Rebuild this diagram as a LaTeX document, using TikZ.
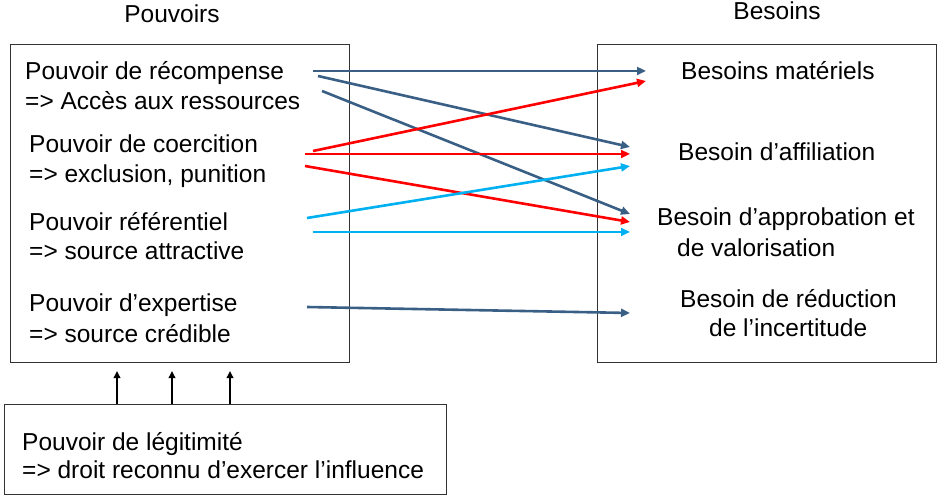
\documentclass[tikz,border=0pt]{standalone}
\usepackage{fontspec}
\setmainfont{Liberation Sans}
\usetikzlibrary{arrows.meta}
\definecolor{dblue}{HTML}{3A5F85}
\definecolor{cred}{HTML}{FF0000}
\definecolor{ccyan}{HTML}{00B0F0}
\tikzset{
  boxframe/.style={draw=black!80, line width=1pt},
  lbl/.style={anchor=base west, inner sep=0pt, font=\fontsize{24.5}{29}\selectfont},
  lblc/.style={anchor=base, inner sep=0pt, font=\fontsize{24.5}{29}\selectfont},
  conn/.style={line width=2.6pt, -{Triangle[length=9pt,width=8pt]}},
  vconn/.style={line width=2.4pt, black, -{Triangle[length=7pt,width=6.5pt]}}
}
\begin{document}
\begin{tikzpicture}[x=1pt,y=-1pt]
\useasboundingbox (0,0) rectangle (938,497);
% boxes
\node[boxframe, minimum width=339pt, minimum height=318pt, anchor=north west, inner sep=0pt] (pbox) at (10,44) {};
\node[boxframe, minimum width=339pt, minimum height=318pt, anchor=north west, inner sep=0pt] (bbox) at (597,44) {};
\node[boxframe, minimum width=442pt, minimum height=90pt, anchor=north west, inner sep=0pt] (lbox) at (4,404) {};
% titles
\node[lblc] (tp) at (172,23) {Pouvoirs};
\node[lblc] (tb) at (777,19.5) {Besoins};
% left texts
\node[lbl] (p1a) at (25,80) {Pouvoir de récompense};
\node[lbl] (p1b) at (25,110) {=> Accès aux ressources};
\node[lbl] (p2a) at (29,153) {Pouvoir de coercition};
\node[lbl] (p2b) at (29,183) {=> exclusion, punition};
\node[lbl] (p3a) at (29,231) {Pouvoir référentiel};
\node[lbl] (p3b) at (29,260) {=> source attractive};
\node[lbl] (p4a) at (29,312) {Pouvoir d’expertise};
\node[lbl] (p4b) at (29,342) {=> source crédible};
% right texts
\node[lbl] (b1) at (681,80) {Besoins matériels};
\node[lbl] (b2) at (678,161) {Besoin d’affiliation};
\node[lbl] (b3a) at (657,226) {Besoin d’approbation et};
\node[lbl] (b3b) at (677,257) {de valorisation};
\node[lbl] (b4a) at (680,308) {Besoin de réduction};
\node[lbl] (b4b) at (709,337) {de l’incertitude};
% bottom texts
\node[lbl] (l1) at (22,450) {Pouvoir de légitimité};
\node[lbl] (l2) at (22,478) {=> droit reconnu d’exercer l’influence};
% connector endpoints
\coordinate (s1) at (313,71);  \coordinate (e1) at (646,71);
\coordinate (s2) at (318,76);  \coordinate (e2) at (630,147);
\coordinate (s3) at (322,91);  \coordinate (e3) at (630,214);
\coordinate (s4) at (313,151); \coordinate (e4) at (646,81);
\coordinate (s5) at (305,154); \coordinate (e5) at (630,154);
\coordinate (s6) at (305,166); \coordinate (e6) at (630,222);
\coordinate (s7) at (307,218); \coordinate (e7) at (630,166);
\coordinate (s8) at (313,232); \coordinate (e8) at (630,232);
\coordinate (s9) at (307,307); \coordinate (e9) at (630,313);
\draw[conn, dblue] (s1) -- (e1);
\draw[conn, dblue] (s2) -- (e2);
\draw[conn, dblue] (s3) -- (e3);
\draw[conn, cred] (s4) -- (e4);
\draw[conn, cred] (s5) -- (e5);
\draw[conn, cred] (s6) -- (e6);
\draw[conn, ccyan] (s7) -- (e7);
\draw[conn, ccyan] (s8) -- (e8);
\draw[conn, dblue] (s9) -- (e9);
% vertical arrows
\draw[vconn] (lbox.north west -| 117,0) -- (117,371);
\draw[vconn] (lbox.north west -| 172,0) -- (172,371);
\draw[vconn] (lbox.north west -| 230,0) -- (230,371);
\end{tikzpicture}
\end{document}
